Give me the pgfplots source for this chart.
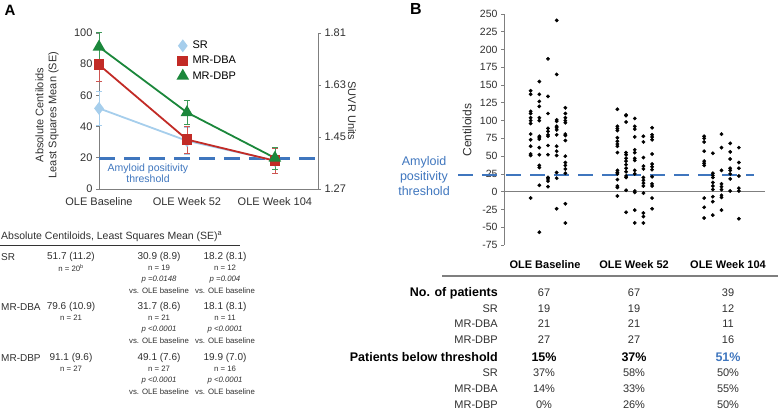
\documentclass[border=0pt]{standalone}
\usepackage{fontspec}
\setmainfont{Liberation Sans}
\usepackage{pgfplots}
\pgfplotsset{compat=1.18}

\definecolor{srblue}{HTML}{A6CEEC}
\definecolor{dbared}{HTML}{C22B26}
\definecolor{dbpgreen}{HTML}{1B873B}
\definecolor{thrblue}{HTML}{3F76BE}
\definecolor{axgray}{HTML}{7F7F7F}
\definecolor{txt}{HTML}{303030}

\newcommand\fs[1]{\fontsize{#1}{#1}\selectfont}

\begin{document}
\begin{tikzpicture}[x=1pt,y=-1pt]
\useasboundingbox (0,0) rectangle (778,411);

% ---------------- panel A ----------------
\node[font=\bfseries\fs{15}] at (10,10) {A};

\begin{axis}[
  at={(99pt,-189pt)}, anchor=south west, scale only axis,
  width=219pt, height=156pt,
  xmin=0, xmax=2.49, ymin=0, ymax=100,
  axis x line*=bottom, axis y line*=left,
  axis line style={axgray, line width=0.8pt},
  xtick={0,1,2}, xticklabels={OLE Baseline, OLE Week 52, OLE Week 104},
  x tick style={draw=none},
  xticklabel style={yshift=-2pt},
  ytick={0,20,...,100}, tick align=outside, major tick length=3pt,
  y tick style={axgray, line width=0.8pt},
  tick label style={font=\fs{11}, text=txt, /pgf/number format/assume math mode=true},
  clip=false,
  legend style={at={(rel axis cs:0.36,0.955)}, anchor=north west, draw=none, fill=none,
    font=\fs{11}, inner sep=0pt, row sep=4pt, nodes={inner sep=1pt},
    /tikz/every odd column/.style={column sep=4pt}},
  legend cell align=left,
  legend image code/.code={\draw[#1] plot coordinates {(0.18cm,0cm)};},
  error bars/y dir=both, error bars/y explicit,
]
\addplot[thrblue, line width=2.2pt, dash pattern=on 16pt off 9pt, forget plot]
  coordinates {(0,19.5) (2.49,19.5)};
\addplot[srblue, line width=1.8pt, mark=diamond*, mark size=5pt,
  error bars/error bar style={srblue, line width=0.7pt},
  error bars/error mark options={srblue, mark size=3pt, line width=0.7pt, rotate=90}]
  coordinates {(0,51.7) +- (0,11.2) (1,30.9) +- (0,8.9) (2,18.2) +- (0,8.1)};
\addlegendentry{SR}
\addplot[dbared, line width=1.8pt, mark=square*, mark size=4.5pt,
  error bars/error bar style={dbared!80, line width=0.7pt},
  error bars/error mark options={dbared!80, mark size=3pt, line width=0.7pt, rotate=90}]
  coordinates {(0,79.6) +- (0,10.9) (1,31.7) +- (0,8.6) (2,18.1) +- (0,8.1)};
\addlegendentry{MR-DBA}
\addplot[dbpgreen, line width=1.8pt, mark=triangle*, mark size=5.5pt,
  error bars/error bar style={dbpgreen!85, line width=0.7pt},
  error bars/error mark options={dbpgreen!85, mark size=3pt, line width=0.7pt, rotate=90}]
  coordinates {(0,91.1) +- (0,9.6) (1,49.1) +- (0,7.6) (2,19.9) +- (0,7.0)};
\addlegendentry{MR-DBP}
\end{axis}

\begin{axis}[
  at={(99pt,-189pt)}, anchor=south west, scale only axis,
  width=219pt, height=156pt,
  xmin=0, xmax=2.49, ymin=1.27, ymax=1.81,
  axis x line=none, axis y line*=right,
  axis line style={axgray, line width=0.8pt},
  ytick={1.27,1.45,1.63,1.81}, yticklabels={1.27,1.45,1.63,1.81},
  tick align=outside, major tick length=3pt,
  y tick style={axgray, line width=0.8pt},
  tick label style={font=\fs{11}, text=txt},
]
\end{axis}

\node[rotate=90, align=center, font=\fontsize{11}{13}\selectfont, text=txt] at (47,115)
  {Absolute Centiloids\\Least Squares Mean (SE)};
\node[rotate=-90, font=\fs{11}, text=txt] at (352,111) {SUVR Units};
\node[align=center, font=\fontsize{10.5}{10.5}\selectfont, text=thrblue] at (148,173)
  {Amyloid positivity\\threshold};

% table A
\node[anchor=west, font=\fs{10.5}, text=txt, inner sep=0pt] at (1,237)
  {Absolute Centiloids, Least Squares Mean (SE)\textsuperscript{a}};
\draw[black!80, line width=0.7pt] (0,245) -- (240,245);
\begin{scope}[every node/.style={font=\fs{10}, text=txt, inner sep=0pt}]
  \node[anchor=west] at (1,257) {SR};
  \node[anchor=west] at (1,307) {MR-DBA};
  \node[anchor=west] at (1,358) {MR-DBP};
  \node at (71,257) {51.7 (11.2)};
  \node at (159,257) {30.9 (8.9)};
  \node at (225,257) {18.2 (8.1)};
  \node at (71,307) {79.6 (10.9)};
  \node at (159,307) {31.7 (8.6)};
  \node at (225,307) {18.1 (8.1)};
  \node at (71,358) {91.1 (9.6)};
  \node at (159,358) {49.1 (7.6)};
  \node at (225,358) {19.9 (7.0)};
\end{scope}
\begin{scope}[every node/.style={font=\fs{7.8}, text=txt, inner sep=0pt}]
  \node at (71,268) {n = 20\textsuperscript{b}};
  \node at (159,268) {n = 19};
  \node at (225,268) {n = 12};
  \node at (159,280) {\textit{p =0.0148}};
  \node at (225,280) {\textit{p =0.004}};
  \node at (159,291) {vs. OLE baseline};
  \node at (225,291) {vs. OLE baseline};
  \node at (71,318) {n = 21};
  \node at (159,318) {n = 21};
  \node at (225,318) {n = 11};
  \node at (159,330) {\textit{p <0.0001}};
  \node at (225,330) {\textit{p <0.0001}};
  \node at (159,341) {vs. OLE baseline};
  \node at (225,341) {vs. OLE baseline};
  \node at (71,369) {n = 27};
  \node at (159,369) {n = 27};
  \node at (225,369) {n = 16};
  \node at (159,381) {\textit{p <0.0001}};
  \node at (225,381) {\textit{p <0.0001}};
  \node at (159,392) {vs. OLE baseline};
  \node at (225,392) {vs. OLE baseline};
\end{scope}

% ---------------- panel B ----------------
\node[font=\bfseries\fs{16}] at (416,9) {B};

\begin{axis}[
  at={(504pt,-245pt)}, anchor=south west, scale only axis,
  width=264pt, height=231pt,
  xmin=-0.507, xmax=2.536, ymin=-75, ymax=250,
  axis x line=none, axis y line*=left,
  axis line style={axgray, line width=0.8pt},
  ytick={-75,-50,...,250}, tick align=outside, major tick length=3pt,
  y tick style={axgray, line width=0.8pt},
  tick label style={font=\fs{10.5}, text=txt, /pgf/number format/assume math mode=true},
  clip=false,
]
\addplot[axgray, line width=1pt] coordinates {(-0.507,0) (2.502,0)};
\addplot[thrblue, line width=2pt, dash pattern=on 15pt off 9pt]
  coordinates {(-1.037,24.1) (2.375,24.1)};
% OLE baseline
\addplot[only marks, mark=*, mark size=1.7pt, black] coordinates {
  (-0.2,142) (-0.2,137) (-0.2,113) (-0.2,110) (-0.2,104) (-0.2,100) (-0.2,96)
  (-0.2,81) (-0.2,73) (-0.2,64) (-0.2,53) (-0.2,51) (-0.2,-9)
  (-0.1,155) (-0.1,137) (-0.1,127) (-0.1,120) (-0.1,104) (-0.1,100) (-0.1,78)
  (-0.1,76) (-0.1,74) (-0.1,62) (-0.1,52) (-0.1,37) (-0.1,34) (-0.1,9) (-0.1,-57)
  (0,187) (0,134) (0,110) (0,89) (0,85) (0,80) (0,78) (0,65) (0,52) (0,20)
  (0,18) (0,15) (0,7)
  (0.1,241) (0.1,165) (0.1,101) (0.1,99) (0.1,92) (0.1,90) (0.1,87) (0.1,80)
  (0.1,64) (0.1,57) (0.1,51) (0.1,27) (0.1,19) (0.1,-24)
  (0.2,118) (0.2,110) (0.2,104) (0.2,100) (0.2,97) (0.2,81) (0.2,79) (0.2,72)
  (0.2,50) (0.2,41) (0.2,37) (0.2,32) (0.2,26) (0.2,-17) (0.2,-44)};
% OLE week 52
\addplot[only marks, mark=*, mark size=1.7pt, black] coordinates {
  (0.8,116) (0.8,92) (0.8,89) (0.8,86) (0.8,76) (0.8,71) (0.8,67) (0.8,64)
  (0.8,55) (0.8,30) (0.8,27) (0.8,25) (0.8,17) (0.8,8) (0.8,6) (0.8,-6)
  (0.9,108) (0.9,107) (0.9,98) (0.9,55) (0.9,52) (0.9,47) (0.9,43) (0.9,38)
  (0.9,33) (0.9,28) (0.9,22) (0.9,20) (0.9,2) (0.9,-29)
  (1,103) (1,92) (1,88) (1,77) (1,59) (1,55) (1,47) (1,44) (1,30) (1,25)
  (1,1) (1,-1) (1,-26) (1,-44)
  (1.1,78) (1.1,70) (1.1,48) (1.1,36) (1.1,32) (1.1,20) (1.1,16) (1.1,12)
  (1.1,8) (1.1,-2) (1.1,-30) (1.1,-35) (1.1,-44)
  (1.2,90) (1.2,80) (1.2,77) (1.2,73) (1.2,53) (1.2,39) (1.2,35) (1.2,31)
  (1.2,21) (1.2,11) (1.2,8) (1.2,-9) (1.2,-24)};
% OLE week 104
\addplot[only marks, mark=*, mark size=1.7pt, black] coordinates {
  (1.8,78) (1.8,75) (1.8,70) (1.8,57) (1.8,43) (1.8,40) (1.8,37) (1.8,-9)
  (1.8,-22) (1.8,-37)
  (1.9,54) (1.9,26) (1.9,23) (1.9,20) (1.9,13) (1.9,8) (1.9,3) (1.9,-7)
  (1.9,-14) (1.9,-33)
  (2,81) (2,62) (2,30) (2,11) (2,7) (2,3) (2,-5) (2,-8) (2,-26)
  (2.1,68) (2.1,56) (2.1,46) (2.1,33) (2.1,30) (2.1,25) (2.1,18) (2.1,1)
  (2.2,62) (2.2,41) (2.2,33) (2.2,22) (2.2,5) (2.2,1) (2.2,-38)};
\end{axis}

\node[rotate=90, font=\fs{12}, text=txt] at (467,130) {Centiloids};
\node[align=center, font=\fontsize{12.5}{15}\selectfont, text=thrblue] at (424,176)
  {Amyloid\\positivity\\threshold};

% table B
\begin{scope}[every node/.style={font=\bfseries\fs{11}, text=black, inner sep=0pt}]
  \node at (545,265) {OLE Baseline};
  \node at (634,265) {OLE Week 52};
  \node at (728,265) {OLE Week 104};
\end{scope}
\draw[axgray, line width=1.2pt] (442,276) -- (778,276);
\begin{scope}[every node/.style={font=\bfseries\fs{12.5}, text=black, inner sep=0pt}]
  \node[anchor=east] at (498,293) {No. of patients};
  \node[anchor=east] at (498,357) {Patients below threshold};
  \node at (544,357) {15\%};
  \node at (634,357) {37\%};
  \node[text=thrblue] at (728,357) {51\%};
\end{scope}
\begin{scope}[every node/.style={font=\fs{11}, text=txt, inner sep=0pt}]
  \node at (544,293) {67}; \node at (634,293) {67}; \node at (728,293) {39};
  \node[anchor=east] at (498,309) {SR};
  \node at (544,309) {19}; \node at (634,309) {19}; \node at (728,309) {12};
  \node[anchor=east] at (498,324) {MR-DBA};
  \node at (544,324) {21}; \node at (634,324) {21}; \node at (728,324) {11};
  \node[anchor=east] at (498,340) {MR-DBP};
  \node at (544,340) {27}; \node at (634,340) {27}; \node at (728,340) {16};
  \node[anchor=east] at (498,373) {SR};
  \node at (544,373) {37\%}; \node at (634,373) {58\%}; \node at (728,373) {50\%};
  \node[anchor=east] at (498,389) {MR-DBA};
  \node at (544,389) {14\%}; \node at (634,389) {33\%}; \node at (728,389) {55\%};
  \node[anchor=east] at (498,405) {MR-DBP};
  \node at (544,405) {0\%}; \node at (634,405) {26\%}; \node at (728,405) {50\%};
\end{scope}
\end{tikzpicture}
\end{document}
